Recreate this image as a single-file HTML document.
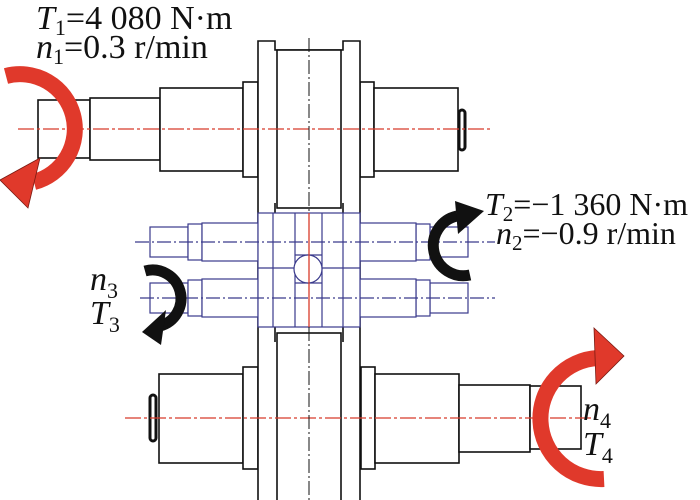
<!DOCTYPE html>
<html><head><meta charset="utf-8"><style>html,body{margin:0;padding:0;background:#fff}svg{display:block}</style></head><body>
<svg width="700" height="500" viewBox="0 0 700 500" xmlns="http://www.w3.org/2000/svg">
<g fill="#fff" stroke="#111" stroke-width="1.6">
<rect x="38" y="100" width="52" height="58"/>
<rect x="90" y="98" width="70" height="62"/>
<rect x="160" y="88" width="83" height="83"/>
<rect x="243" y="82" width="15" height="95"/>
<rect x="360" y="82" width="14" height="95"/>
<rect x="374" y="88" width="84" height="83"/>
<rect x="159" y="374" width="84" height="89"/>
<rect x="243" y="367" width="15" height="102"/>
<rect x="361" y="367" width="14" height="102"/>
<rect x="375" y="374" width="84" height="89"/>
<rect x="459" y="385" width="71" height="67"/>
<rect x="530" y="386" width="51" height="63"/>
<path d="M258 41 H275 V50 H343 V41 H360 V510 H258 Z"/>
<rect x="277" y="50" width="64" height="158"/>
<rect x="277" y="333" width="64" height="175"/>
<path d="M275 203 V213 M343 203 V213 M275 342 V327 M343 342 V327" fill="none"/>
</g>
<g fill="#fff" stroke="#111" stroke-width="3">
<rect x="459" y="110" width="6" height="40" rx="3"/>
<rect x="150" y="395" width="6" height="46" rx="3"/>
</g>
<g fill="#fff" stroke="#3a3a8c" stroke-width="1.2">
<rect x="150" y="227" width="38" height="30"/><rect x="188" y="224" width="14" height="36"/><rect x="202" y="223" width="56" height="38"/>
<rect x="150" y="283" width="38" height="30"/><rect x="188" y="280" width="14" height="36"/><rect x="202" y="279" width="56" height="38"/>
<rect x="430" y="227" width="38" height="30"/><rect x="416" y="224" width="14" height="36"/><rect x="360" y="223" width="56" height="38"/>
<rect x="430" y="283" width="38" height="30"/><rect x="416" y="280" width="14" height="36"/><rect x="360" y="279" width="56" height="38"/>
<rect x="258" y="213" width="102" height="114"/>
<path d="M273 213V327 M295 213V327 M322 213V327 M343 213V327 M258 268H360 M295 255H322 M295 283H322" fill="none"/>
<circle cx="308" cy="269" r="14"/>
</g>
<g stroke="#3a3a8c" stroke-width="1.2" stroke-dasharray="14,3,2,3" fill="none">
<path d="M135 242H495 M140 298H495"/>
</g>
<g stroke="#d83a2a" stroke-width="1.3" stroke-dasharray="16,3,3,3" fill="none">
<path d="M18 129H493 M125 418H596"/>
<path d="M309 213V327" stroke-dasharray="none"/>
</g>
<g stroke="#111" stroke-width="1" stroke-dasharray="14,3,2,3" fill="none">
<path d="M309 38V213 M309 327V500"/>
</g>
<g fill="none" stroke="#e0392b" stroke-width="16">
<path d="M6 76 A54 54 0 0 1 34 182"/>
<path d="M604 479 A55 55 0 0 1 598 358"/>
</g>
<g fill="#e0392b" stroke="#7a1a12" stroke-width="0.8">
<polygon points="40,158 0,180 28,208"/>
<polygon points="594,328 624,356 596,384"/>
</g>
<g fill="none" stroke="#111" stroke-width="11">
<path d="M470 275 A28 28 0 0 1 457 216"/>
<path d="M145 271 A28 28 0 0 1 160 326"/>
</g>
<g fill="#111">
<polygon points="455,201 484,211 458,234"/>
<polygon points="166,310 142,332 161,345"/>
</g>
<g font-family="Liberation Serif, serif" fill="#111">
<text x="36" y="29" font-size="34"><tspan font-style="italic">T</tspan><tspan font-size="22" dy="6">1</tspan><tspan dy="-6">=4 080 N·m</tspan></text>
<text x="36" y="58" font-size="34"><tspan font-style="italic">n</tspan><tspan font-size="22" dy="6">1</tspan><tspan dy="-6">=0.3 r/min</tspan></text>
<text x="485" y="215" font-size="32"><tspan font-style="italic">T</tspan><tspan font-size="21" dy="6">2</tspan><tspan dy="-6">=−1 360 N·m</tspan></text>
<text x="496" y="244" font-size="32"><tspan font-style="italic">n</tspan><tspan font-size="21" dy="6">2</tspan><tspan dy="-6">=−0.9 r/min</tspan></text>
<text x="90" y="290" font-size="34"><tspan font-style="italic">n</tspan><tspan font-size="22" dy="8">3</tspan></text>
<text x="90" y="324" font-size="34"><tspan font-style="italic">T</tspan><tspan font-size="22" dy="8">3</tspan></text>
<text x="583" y="420" font-size="34"><tspan font-style="italic">n</tspan><tspan font-size="22" dy="8">4</tspan></text>
<text x="583" y="455" font-size="34"><tspan font-style="italic">T</tspan><tspan font-size="22" dy="8">4</tspan></text>
</g>
</svg>
</body></html>
